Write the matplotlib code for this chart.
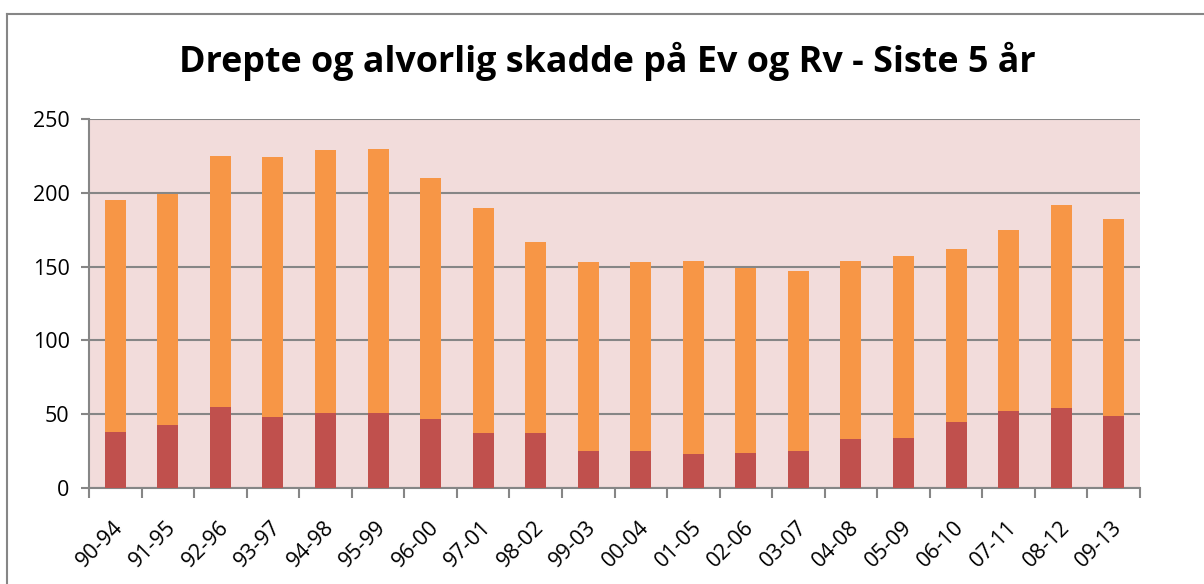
import matplotlib
matplotlib.use("Agg")
import matplotlib.pyplot as plt
import matplotlib.transforms as mtransforms
import numpy as np
from matplotlib.lines import Line2D

categories = ["90-94", "91-95", "92-96", "93-97", "94-98", "95-99", "96-00", "97-01",
              "98-02", "99-03", "00-04", "01-05", "02-06", "03-07", "04-08", "05-09",
              "06-10", "07-11", "08-12", "09-13"]
drepte = [38, 43, 55, 48, 51, 51, 47, 37, 37, 25, 25, 23, 24, 25, 33, 34, 45, 52, 54, 49]
totals = [195, 199, 225, 224, 229, 230, 210, 190, 167, 153, 153, 154, 149, 147, 154, 157,
          162, 175, 192, 182]
alvorlig = [t - d for t, d in zip(totals, drepte)]
yticks = [0, 50, 100, 150, 200, 250]
title = "Drepte og alvorlig skadde på Ev og Rv - Siste 5 år"

plt.rcParams['font.family'] = ['Open Sans', 'DejaVu Sans']

W, H = 1204, 584
fig = plt.figure(figsize=(W / 100, H / 100), dpi=100)
ax = fig.add_axes([89 / W, 1 - 488 / H, (1140 - 89) / W, (488 - 119) / H])

x = np.arange(len(categories))
ax.bar(x, drepte, width=0.4, color="#C0504D", zorder=3)
ax.bar(x, alvorlig, bottom=drepte, width=0.4, color="#F79646", zorder=3)

ax.set_xlim(-0.5, len(categories) - 0.5)
ax.set_ylim(0, 250)
ax.set_facecolor("#F2DCDB")
ax.set_yticks(yticks)
ax.set_yticklabels([str(v) for v in yticks], fontsize=15.5)
ax.yaxis.grid(True, color="#868686", linewidth=1.5, zorder=1)
ax.set_axisbelow(True)

ax.set_xticks(x)
ax.set_xticklabels(categories, rotation=45, ha="right", va="center",
                   rotation_mode="anchor", fontsize=15.5)
ax.tick_params(axis="x", which="major", length=0, pad=26)
ax.set_xticks(np.arange(-0.5, len(categories), 1), minor=True)
ax.tick_params(axis="x", which="minor", length=7, width=1.5, color="#868686", direction="out")
ax.tick_params(axis="y", length=6, width=1.5, color="#868686", direction="out", pad=8)
shift = mtransforms.ScaledTranslation(5 / 100, 0, fig.dpi_scale_trans)
for lbl in ax.get_xticklabels():
    lbl.set_transform(lbl.get_transform() + shift)

for s in ["top", "right"]:
    ax.spines[s].set_visible(False)
for s in ["left", "bottom"]:
    ax.spines[s].set_color("#868686")
    ax.spines[s].set_linewidth(1.5)

fig.text(0.5 + 5 / W, 1 - 61 / H, title, ha="center", va="center", fontsize=25.8, fontweight="bold")

# outer chart frame (top and left edges visible)
fig.add_artist(Line2D([6.5 / W, 1.0], [1 - 13.5 / H, 1 - 13.5 / H], transform=fig.transFigure,
                      color="#868686", linewidth=1.5))
fig.add_artist(Line2D([6.5 / W, 6.5 / W], [1 - 13.5 / H, 0.0], transform=fig.transFigure,
                      color="#868686", linewidth=1.5))

fig.savefig("out.png", dpi=100)
